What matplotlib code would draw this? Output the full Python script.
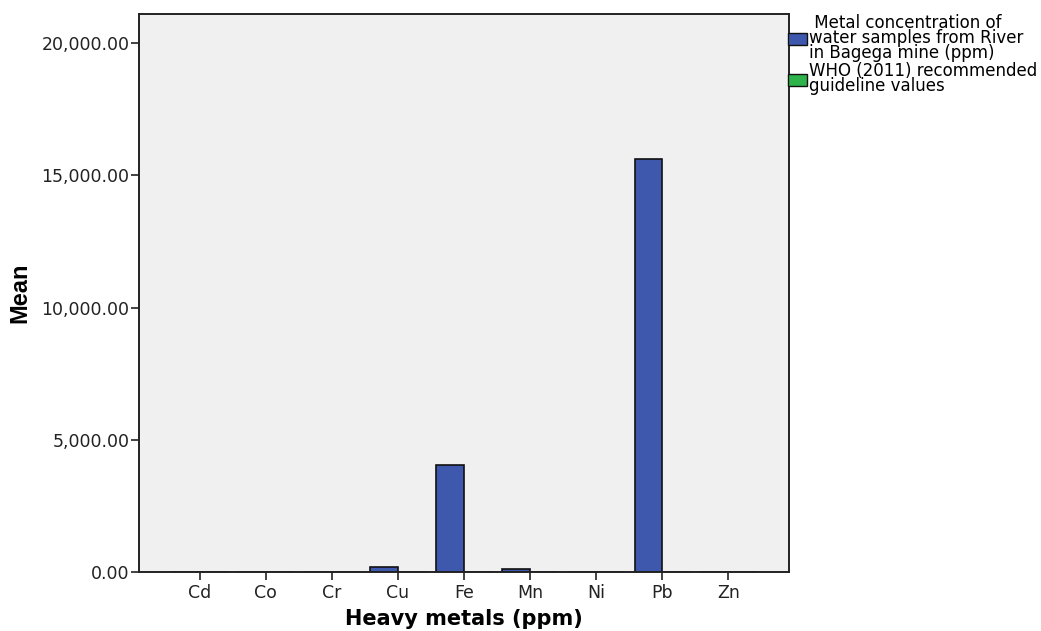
import matplotlib
matplotlib.use("Agg")
import matplotlib.pyplot as plt
import numpy as np
from matplotlib.ticker import FuncFormatter
from matplotlib.patches import Patch

metals = ["Cd", "Co", "Cr", "Cu", "Fe", "Mn", "Ni", "Pb", "Zn"]
river_ppm = [6, 4, 3, 190, 4045, 130, 3, 15620, 8]
who_2011 = [0.003, 0.05, 0.05, 2, 0.3, 0.4, 0.07, 0.01, 3]
series_labels = [" Metal concentration of\nwater samples from River\nin Bagega mine (ppm)",
                 "WHO (2011) recommended\nguideline values"]

blue = "#3D58AC"
green = "#2DB34A"

fig = plt.figure(figsize=(10.41, 6.31), dpi=100)
ax = fig.add_axes([139/1041, 1-572/631, (789-139)/1041, (572-14)/631])
ax.set_facecolor("#F0F0F0")

x = np.arange(len(metals))
w = 0.42
ax.bar(x - w/2, river_ppm, width=w, color=blue, edgecolor="#111111", linewidth=1.2)
ax.bar(x + w/2, who_2011, width=w, color=green, edgecolor="#111111", linewidth=1.2)

ax.set_xlim(-0.915, 8.915)
ax.set_ylim(0, 21100)
ax.set_yticks([0, 5000, 10000, 15000, 20000])
ax.yaxis.set_major_formatter(FuncFormatter(lambda v, p: f"{v:,.2f}"))
ax.set_xticks(x)
ax.set_xticklabels(metals)
for s in ax.spines.values():
    s.set_color("#222222")
    s.set_linewidth(1.4)
ax.tick_params(axis="both", length=6, width=1.2, color="#222222",
               labelsize=12.5, labelcolor="#222222")
for lab in ax.get_xticklabels() + ax.get_yticklabels():
    lab.set_family("DejaVu Sans")
ax.tick_params(axis="x", pad=3)
ax.tick_params(axis="y", pad=1)

ax.set_xlabel("Heavy metals (ppm)", fontsize=15, fontweight="bold",
              family="DejaVu Sans", labelpad=5)
ax.set_ylabel("Mean", fontsize=17, fontweight="bold",
              family=["Liberation Sans Narrow", "Liberation Sans"])
ax.yaxis.set_label_coords(-0.166, 0.5)

handles = [Patch(facecolor=blue, edgecolor="#111111"),
           Patch(facecolor=green, edgecolor="#111111")]
leg = fig.legend(handles, series_labels, loc="upper left",
                 bbox_to_anchor=(786/1041, 1-12/631), frameon=False,
                 prop={"family": "DejaVu Sans", "size": 12},
                 handlelength=1.15, handleheight=0.8, handletextpad=0.12,
                 labelspacing=0.0, borderaxespad=0, borderpad=0.1)
for t in leg.get_texts():
    t.set_linespacing(0.8)

fig.savefig("out.png", dpi=100)
